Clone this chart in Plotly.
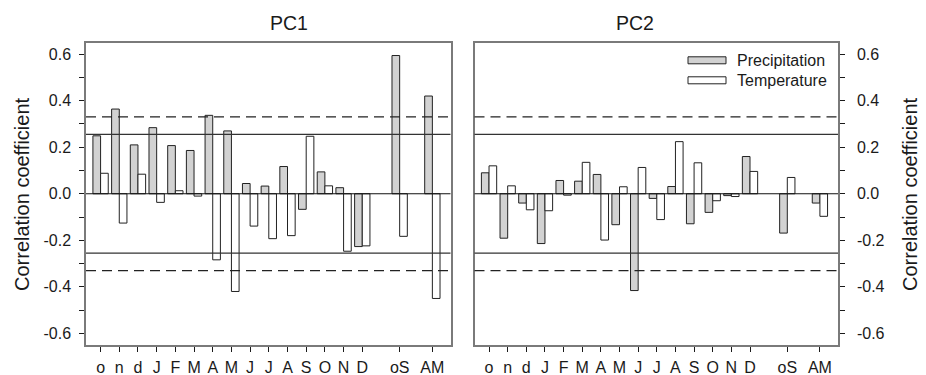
import plotly.graph_objects as go

# ---- data ----
categories = ["o", "n", "d", "J", "F", "M", "A", "M", "J", "J", "A", "S", "O", "N", "D", "oS", "AM"]
pc1_precip = [0.249, 0.364, 0.210, 0.284, 0.207, 0.186, 0.337, 0.270, 0.044, 0.033, 0.117, -0.067, 0.094, 0.026, -0.227, 0.594, 0.420]
pc1_temp = [0.088, -0.126, 0.084, -0.037, 0.013, -0.010, -0.284, -0.420, -0.139, -0.193, -0.180, 0.247, 0.034, -0.247, -0.224, -0.183, -0.450]
pc2_precip = [0.090, -0.191, -0.040, -0.214, 0.057, 0.054, 0.083, -0.133, -0.416, -0.020, 0.031, -0.129, -0.080, -0.008, 0.160, -0.169, -0.040]
pc2_temp = [0.120, 0.034, -0.069, -0.073, -0.006, 0.135, -0.199, 0.030, 0.113, -0.111, 0.224, 0.133, -0.030, -0.012, 0.096, 0.070, -0.097]
sig_levels = [0.255, 0.33]  # solid, dashed significance thresholds
y_ticks = [-0.6, -0.4, -0.2, 0.0, 0.2, 0.4, 0.6]
series_names = ["Precipitation", "Temperature"]

# ---- layout helpers ----
# monthly groups evenly spaced, seasonal groups after a gap
positions = list(range(15)) + [16, 17.75]

FONT = "Liberation Sans, Arial, Helvetica, sans-serif"
TXT = "#1a1a1a"
FRAME = "#7a7a7a"
FILLS = ["#d2d2d2", "white"]
BAR_LINE = "#222222"

fig = go.Figure()

panels = [("x", "y", pc1_precip, pc1_temp), ("x2", "y2", pc2_precip, pc2_temp)]
for xa, ya, pv, tv in panels:
    for name, vals, fill in zip(series_names, [pv, tv], FILLS):
        fig.add_trace(go.Bar(x=positions, y=vals, xaxis=xa, yaxis=ya, name=name,
                             marker=dict(color=fill, line=dict(color=BAR_LINE, width=1)),
                             showlegend=False))

W, H = 926, 375
xdom1 = [86 / W, 450.5 / W]
xdom2 = [474.5 / W, 838 / W]
ydom = [(H - 345) / H, (H - 42.5) / H]
xr = [-0.78, 18.72]
yr = [-0.65, 0.65]

def xaxis(dom, anchor):
    return dict(domain=dom, anchor=anchor, range=xr, tickvals=positions, ticktext=categories,
                ticks="outside", ticklen=5, tickcolor=TXT, showline=True, linecolor=FRAME,
                linewidth=1.5, mirror=True, showgrid=False, zeroline=False,
                tickfont=dict(size=16, color=TXT, family=FONT), automargin=False,
                ticklabelstandoff=2)

def yaxis(anchor, side, standoff):
    return dict(domain=ydom, anchor=anchor, side=side, range=yr, tickvals=y_ticks,
                ticktext=[f"{v:.1f}" for v in y_ticks],
                ticks="outside", ticklen=5, tickcolor=TXT, showline=True, linecolor=FRAME,
                linewidth=1.5, mirror=True, showgrid=False, zeroline=False,
                minor=dict(dtick=0.1, tick0=0, ticks="outside", ticklen=5, tickcolor=TXT),
                tickfont=dict(size=16, color=TXT, family=FONT), automargin=False,
                ticklabelstandoff=standoff)

shapes = []
for xa, ya in [("x", "y"), ("x2", "y2")]:
    shapes.append(dict(type="line", xref=f"{xa} domain", yref=ya, x0=0, x1=1, y0=0, y1=0,
                       line=dict(color="#111111", width=1), layer="above"))
    for s in (1, -1):
        shapes.append(dict(type="line", xref=f"{xa} domain", yref=ya, x0=0, x1=1,
                           y0=s * sig_levels[0], y1=s * sig_levels[0],
                           line=dict(color="#333333", width=1.2), layer="above"))
        shapes.append(dict(type="line", xref=f"{xa} domain", yref=ya, x0=0, x1=1,
                           y0=s * sig_levels[1], y1=s * sig_levels[1],
                           line=dict(color="#222222", width=1.2, dash="10px,6px"), layer="above"))

annotations = [
    dict(text="PC1", x=sum(xdom1) / 2, y=(H - 22.5) / H, xref="paper", yref="paper",
         showarrow=False, font=dict(size=19.5, color=TXT, family=FONT), yanchor="middle"),
    dict(text="PC2", x=sum(xdom2) / 2, y=(H - 22.5) / H, xref="paper", yref="paper",
         showarrow=False, font=dict(size=19.5, color=TXT, family=FONT), yanchor="middle"),
    dict(text="Correlation coefficient", x=22 / W, y=(H - 194) / H, xref="paper", yref="paper",
         showarrow=False, textangle=-90, font=dict(size=20, color=TXT, family=FONT),
         xanchor="center", yanchor="middle"),
    dict(text="Correlation coefficient", x=910 / W, y=(H - 194) / H, xref="paper", yref="paper",
         showarrow=False, textangle=-90, font=dict(size=20, color=TXT, family=FONT),
         xanchor="center", yanchor="middle"),
]

# custom legend with wide rectangular swatches (inside PC2 panel, top right)
leg_rows_y = [60.3, 80.3]
for name, fill, yc in zip(series_names, FILLS, leg_rows_y):
    shapes.append(dict(type="rect", xref="paper", yref="paper",
                       x0=688 / W, x1=726 / W, y0=(H - yc - 3.5) / H, y1=(H - yc + 3.5) / H,
                       fillcolor=fill, line=dict(color=BAR_LINE, width=1), layer="above"))
    annotations.append(dict(text=name, x=735 / W, y=(H - yc) / H, xref="paper", yref="paper",
                            showarrow=False, xanchor="left", yanchor="middle",
                            font=dict(size=16, color=TXT, family=FONT)))

fig.update_layout(
    width=W, height=H,
    margin=dict(l=0, r=0, t=0, b=0),
    paper_bgcolor="white", plot_bgcolor="white",
    barmode="group", bargap=0.18, bargroupgap=0.0,
    xaxis=xaxis(xdom1, "y"), yaxis=yaxis("x", "left", 5),
    xaxis2=xaxis(xdom2, "y2"), yaxis2=yaxis("x2", "right", 9),
    shapes=shapes, annotations=annotations,
    font=dict(family=FONT, color=TXT),
    showlegend=False,
)

fig.write_html("out.html", config={"displayModeBar": False},
               post_script="document.body.style.margin='0';document.body.style.padding='0';")
